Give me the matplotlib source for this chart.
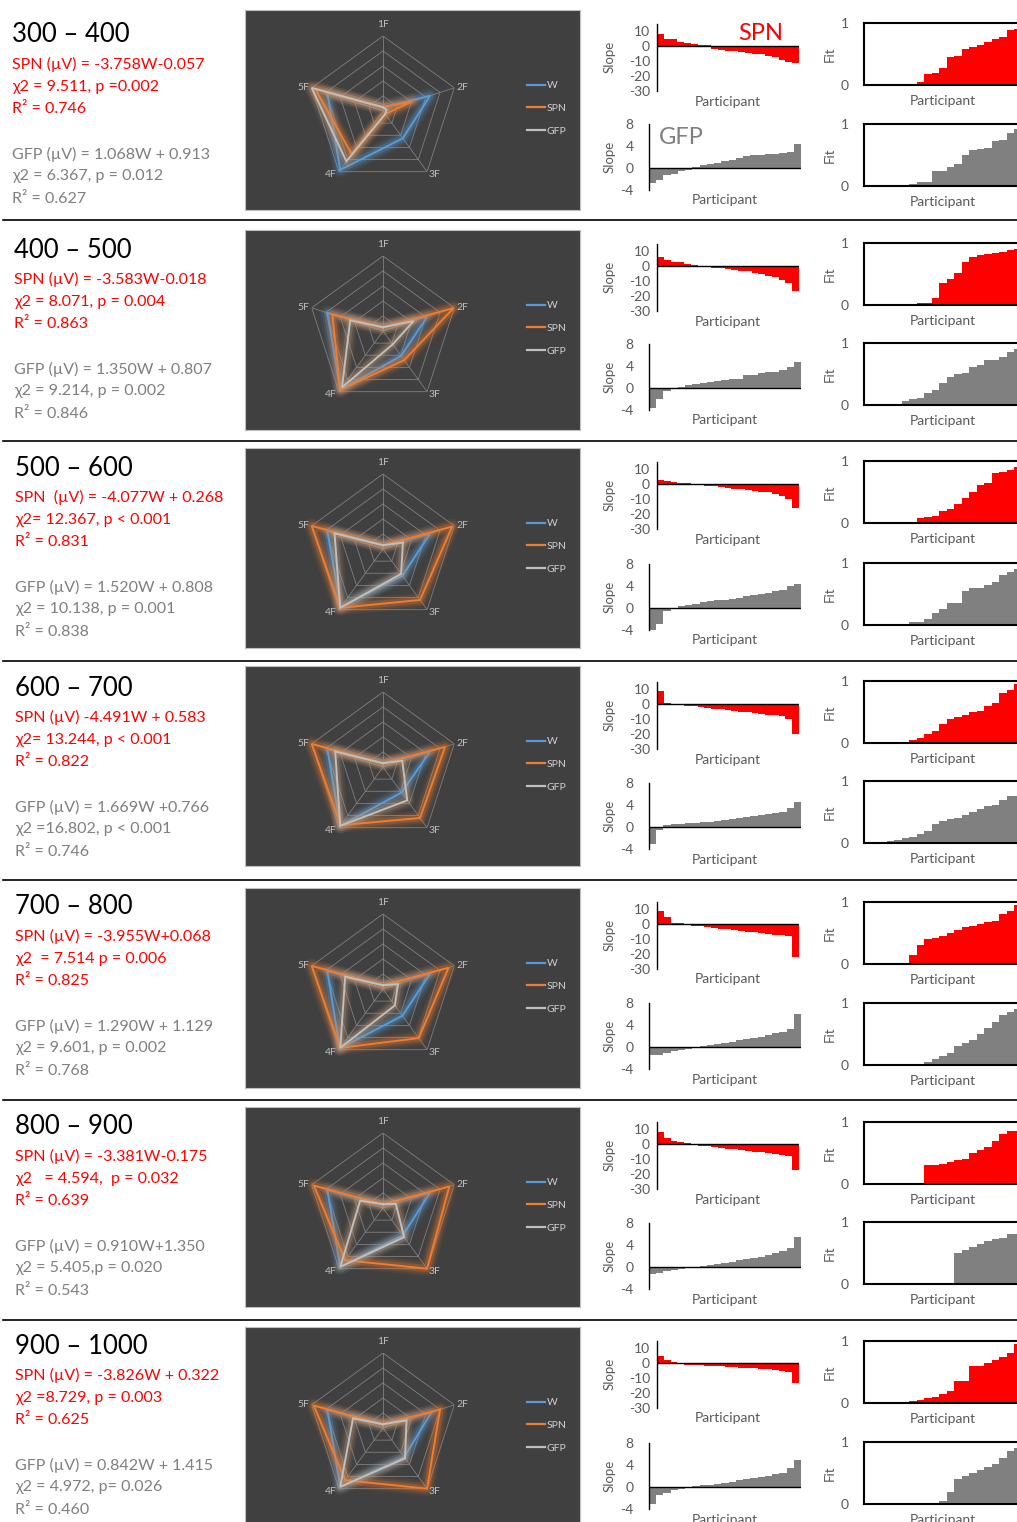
import numpy as np
import matplotlib
matplotlib.use('Agg')
import matplotlib.pyplot as plt
from matplotlib.lines import Line2D

plt.rcParams['font.family'] = ['Lato', 'DejaVu Sans']
plt.rcParams['axes.unicode_minus'] = False

# ---------------- data ----------------
windows = ["300 – 400", "400 – 500", "500 – 600", "600 – 700",
           "700 – 800", "800 – 900", "900 – 1000"]
spn_eq = ["SPN (µV) = -3.758W-0.057", "SPN (µV) = -3.583W-0.018",
          "SPN  (µV) = -4.077W + 0.268", "SPN (µV) -4.491W + 0.583",
          "SPN (µV) = -3.955W+0.068", "SPN (µV) = -3.381W-0.175",
          "SPN (µV) = -3.826W + 0.322"]
spn_chi = ["χ2 = 9.511, p =0.002", "χ2 = 8.071, p = 0.004",
           "χ2= 12.367, p < 0.001", "χ2= 13.244, p < 0.001",
           "χ2  = 7.514 p = 0.006", "χ2   = 4.594,  p = 0.032",
           "χ2 =8.729, p = 0.003"]
spn_r2 = ["R² = 0.746", "R² = 0.863", "R² = 0.831", "R² = 0.822",
          "R² = 0.825", "R² = 0.639", "R² = 0.625"]
gfp_eq = ["GFP (µV) = 1.068W + 0.913", "GFP (µV) = 1.350W + 0.807",
          "GFP (µV) = 1.520W + 0.808", "GFP (µV) = 1.669W +0.766",
          "GFP (µV) = 1.290W + 1.129", "GFP (µV) = 0.910W+1.350",
          "GFP (µV) = 0.842W + 1.415"]
gfp_chi = ["χ2 = 6.367, p = 0.012", "χ2 = 9.214, p = 0.002",
           "χ2 = 10.138, p = 0.001", "χ2 =16.802, p < 0.001",
           "χ2 = 9.601, p = 0.002", "χ2 = 5.405,p = 0.020",
           "χ2 = 4.972, p= 0.026"]
gfp_r2 = ["R² = 0.627", "R² = 0.846", "R² = 0.838", "R² = 0.746",
          "R² = 0.768", "R² = 0.543", "R² = 0.460"]

radar_labels = ["1F", "2F", "3F", "4F", "5F"]
radar_w = [[0.05, 0.66, 0.45, 0.97, 0.78],
           [0.05, 0.62, 0.41, 0.97, 0.78],
           [0.05, 0.66, 0.44, 0.96, 0.78],
           [0.05, 0.66, 0.42, 0.97, 0.78],
           [0.05, 0.66, 0.44, 0.98, 0.78],
           [0.05, 0.66, 0.45, 0.97, 0.78],
           [0.05, 0.68, 0.48, 0.97, 0.78]]
radar_spn = [[0.05, 0.41, 0.05, 0.71, 0.95],
             [0.05, 0.99, 0.48, 0.97, 0.71],
             [0.05, 0.97, 0.84, 0.97, 1.00],
             [0.05, 0.87, 0.84, 0.96, 1.00],
             [0.05, 0.92, 0.81, 0.97, 1.00],
             [0.05, 0.93, 1.00, 0.86, 0.97],
             [0.05, 0.80, 1.00, 0.86, 0.97]]
radar_gfp = [[0.05, 0.05, 0.05, 0.83, 1.00],
             [0.05, 0.43, 0.22, 0.93, 0.46],
             [0.05, 0.28, 0.41, 0.97, 0.68],
             [0.05, 0.27, 0.55, 0.97, 0.67],
             [0.05, 0.21, 0.27, 0.97, 0.53],
             [0.05, 0.18, 0.48, 0.97, 0.32],
             [0.05, 0.33, 0.50, 0.97, 0.42]]

spn_slope = [
    [8, 5, 4.5, 2.5, 2, 1.5, 1, 0.5, -2, -2.5, -3, -3.5, -4, -4.5, -5, -5.5, -6.5, -7.5, -9, -10.5, -11.5],
    [6, 4, 3, 2.5, 1.5, 0.8, 0.3, -0.5, -1, -1.5, -2, -2.5, -3, -3.5, -4.5, -5, -6.5, -7, -9, -11, -16.5],
    [3, 2, 1.5, 1, 0.5, 0.2, -0.5, -1, -1.5, -2, -2.5, -3, -3.5, -4, -4.5, -5, -5.5, -6.5, -8, -10, -16],
    [9, 0.5, 0, -0.5, -1, -1.5, -2, -2.5, -3, -3.5, -4, -4.5, -5, -5.5, -6, -6.5, -7, -7.5, -8, -10, -20],
    [9, 5, 1, 0.5, -0.5, -1, -1.5, -2, -2.5, -3, -3.5, -4, -4.5, -5, -5.5, -6, -6.5, -7, -7.5, -8, -22],
    [8, 4, 2, 1.5, 0.5, -0.5, -1, -1.5, -2, -2.5, -3, -3.5, -4, -4.5, -5, -5.5, -6, -6.5, -7, -8, -17],
    [5, 2, 0.5, -0.5, -1, -1.2, -1.5, -1.8, -2, -2.2, -2.5, -2.8, -3, -3.2, -3.5, -3.8, -4, -4.5, -5, -6, -13]]
gfp_slope = [
    [-2.8, -2.2, -1.2, -1, -0.6, -0.3, 0.2, 0.5, 0.8, 1, 1.2, 1.4, 1.8, 2.2, 2.3, 2.4, 2.5, 2.6, 2.8, 3, 4.3],
    [-3.6, -2, -0.5, 0, 0.2, 0.5, 0.7, 0.9, 1.1, 1.3, 1.5, 1.6, 1.7, 2.3, 2.4, 2.8, 2.9, 3, 3.2, 3.9, 4.7],
    [-4, -3, -0.5, -0.2, 0.3, 0.5, 0.8, 1, 1.2, 1.4, 1.5, 1.7, 1.9, 2.1, 2.3, 2.5, 2.8, 3, 3.3, 4, 4.3],
    [-3, -0.5, 0.3, 0.5, 0.6, 0.7, 0.8, 0.9, 1.0, 1.1, 1.2, 1.4, 1.6, 1.8, 2.0, 2.2, 2.4, 2.6, 2.8, 3.5, 4.5],
    [-1.5, -1.5, -1, -0.8, -0.5, -0.3, 0, 0.2, 0.4, 0.6, 0.8, 1.0, 1.2, 1.4, 1.6, 1.8, 2.2, 2.5, 2.8, 3.2, 6],
    [-1.2, -1, -0.8, -0.6, -0.4, -0.2, 0, 0.2, 0.4, 0.6, 0.8, 1, 1.2, 1.4, 1.6, 1.8, 2.2, 2.6, 3, 3.5, 5.5],
    [-3, -1.5, -1, -0.5, -0.3, 0, 0.2, 0.3, 0.4, 0.6, 0.8, 1.0, 1.2, 1.4, 1.6, 1.8, 2.0, 2.3, 2.6, 3.5, 5]]
spn_fit = [
    [0, 0, 0, 0, 0, 0, 0, 0.05, 0.17, 0.2, 0.28, 0.45, 0.47, 0.58, 0.62, 0.64, 0.7, 0.75, 0.77, 0.88, 0.9],
    [0, 0, 0, 0, 0, 0.01, 0.02, 0.04, 0.04, 0.12, 0.35, 0.42, 0.52, 0.7, 0.78, 0.8, 0.82, 0.84, 0.86, 0.88, 0.9],
    [0, 0, 0, 0, 0, 0, 0.02, 0.08, 0.1, 0.12, 0.2, 0.22, 0.3, 0.4, 0.5, 0.62, 0.65, 0.8, 0.82, 0.85, 0.9],
    [0, 0, 0, 0, 0, 0.02, 0.05, 0.08, 0.15, 0.2, 0.3, 0.38, 0.42, 0.45, 0.5, 0.52, 0.6, 0.65, 0.8, 0.85, 0.95],
    [0, 0, 0, 0, 0, 0, 0.15, 0.3, 0.4, 0.42, 0.45, 0.5, 0.55, 0.6, 0.62, 0.65, 0.68, 0.7, 0.8, 0.85, 0.95],
    [0, 0, 0, 0, 0, 0, 0, 0, 0.3, 0.3, 0.32, 0.35, 0.38, 0.4, 0.5, 0.55, 0.6, 0.7, 0.8, 0.85, 0.85],
    [0, 0, 0, 0, 0.01, 0.02, 0.03, 0.05, 0.08, 0.1, 0.15, 0.2, 0.35, 0.35, 0.6, 0.6, 0.65, 0.7, 0.75, 0.8, 0.95]]
gfp_fit = [
    [0, 0, 0, 0, 0, 0, 0.04, 0.07, 0.07, 0.25, 0.25, 0.3, 0.35, 0.5, 0.58, 0.6, 0.62, 0.72, 0.75, 0.85, 0.92],
    [0, 0, 0, 0, 0.02, 0.07, 0.1, 0.12, 0.2, 0.25, 0.35, 0.45, 0.5, 0.52, 0.62, 0.65, 0.72, 0.72, 0.77, 0.85, 0.9],
    [0, 0, 0, 0, 0, 0.02, 0.05, 0.05, 0.1, 0.2, 0.25, 0.35, 0.35, 0.55, 0.6, 0.6, 0.65, 0.7, 0.8, 0.85, 0.9],
    [0, 0.01, 0.02, 0.03, 0.05, 0.08, 0.1, 0.15, 0.2, 0.3, 0.35, 0.38, 0.4, 0.45, 0.5, 0.55, 0.6, 0.62, 0.7, 0.75, 0.75],
    [0, 0, 0, 0, 0, 0, 0, 0.02, 0.05, 0.1, 0.15, 0.2, 0.3, 0.35, 0.4, 0.5, 0.6, 0.7, 0.8, 0.85, 0.9],
    [0, 0, 0, 0, 0, 0, 0, 0, 0, 0, 0, 0, 0.5, 0.55, 0.6, 0.65, 0.7, 0.72, 0.75, 0.8, 0.8],
    [0, 0, 0, 0, 0, 0, 0, 0, 0, 0, 0.05, 0.2, 0.4, 0.45, 0.5, 0.55, 0.6, 0.65, 0.75, 0.85, 0.9]]

# ---------------- layout (pixels) ----------------
W_PX, H_PX, DPI = 1017, 1522, 100
text_base = [5, 220, 438, 658, 877, 1097, 1316]
text_x = [12, 14, 15, 15, 15, 15, 15]
text_off = [30, 59, 82, 104, 149, 171, 194]
panel_top = [10, 230, 448, 666, 888, 1107, 1327]
spn_zero = [46, 266, 484, 704, 924, 1144, 1363]
gfp_zero = [168, 388, 608, 827, 1047, 1267, 1487]
fit1_top = [23, 243, 461, 681, 902, 1122, 1341]
fit2_top = [124, 343, 563, 781, 1003, 1222, 1442]
separators = [220, 441, 661, 880, 1100, 1320]

RED = '#ff0000'
GRAY_TXT = '#7f7f7f'
GRAY_BAR = '#808080'
LABEL = '#595959'
C_W, C_SPN, C_GFP = '#5b9bd5', '#ed7d31', '#bfbfbf'
G_W, G_SPN, G_GFP = '#5b9bd5', '#ed7d31', '#c39b76'

fig = plt.figure(figsize=(W_PX / DPI, H_PX / DPI), dpi=DPI)


def fbox(x0, y0, x1, y1):
    return [x0 / W_PX, 1 - y1 / H_PX, (x1 - x0) / W_PX, (y1 - y0) / H_PX]


def ftext(x, y, s, **kw):
    fig.text(x / W_PX, 1 - y / H_PX, s, **kw)


def slope_axes(x0, x1, z, lo, hi, ppu, vals, color, ticks, pad):
    top, bot = z - hi * ppu, z - lo * ppu
    ax = fig.add_axes(fbox(x0, top, x1, bot))
    n = len(vals)
    ax.bar(np.arange(n), vals, width=1.0, align='edge', color=color, linewidth=0)
    ax.set_xlim(0, n)
    ax.set_ylim(lo, hi)
    ax.axhline(0, color='black', lw=1.0)
    for s in ['top', 'right', 'bottom']:
        ax.spines[s].set_visible(False)
    ax.spines['left'].set_color('black')
    ax.spines['left'].set_linewidth(1.0)
    ax.set_xticks([])
    ax.set_yticks(ticks)
    ax.tick_params(axis='y', length=0, pad=pad, labelsize=10, labelcolor=LABEL)
    ax.patch.set_alpha(0)
    ftext(610, (top + bot) / 2, 'Slope', rotation=90, ha='center', va='center',
          fontsize=9.5, color=LABEL)
    ftext((x0 + x1) / 2, bot + 10.5, 'Participant', ha='center', va='center',
          fontsize=10, color=LABEL)
    return ax


def fit_axes(top, vals, color):
    bot = top + 62
    ax = fig.add_axes(fbox(864, top, 1022, bot))
    n = len(vals)
    ax.bar(np.arange(n), vals, width=1.0, align='edge', color=color, linewidth=0)
    ax.set_xlim(0, n)
    ax.set_ylim(0, 1)
    for s in ax.spines.values():
        s.set_color('black')
        s.set_linewidth(1.5)
    ax.set_xticks([])
    ax.set_yticks([0, 1])
    ax.tick_params(axis='y', length=0, pad=11, labelsize=10, labelcolor=LABEL)
    ftext(830, (top + bot) / 2, 'Fit', rotation=90, ha='center', va='center',
          fontsize=9.5, color=LABEL)
    ftext(943, bot + 16, 'Participant', ha='center', va='center',
          fontsize=10, color=LABEL)
    return ax


theta = np.linspace(0, 2 * np.pi, len(radar_labels), endpoint=False)
theta_c = np.append(theta, theta[0])
label_pos = [(1.15, 'center'), (1.03, 'left'), (1.04, 'left'), (1.04, 'right'), (1.03, 'right')]

for i in range(len(windows)):
    # ---- text block ----
    b = text_base[i]
    tx = text_x[i]
    ftext(tx, b + text_off[0], windows[i], fontsize=18.5, color='black', va='center')
    for s, off, col in [(spn_eq[i], text_off[1], RED), (spn_chi[i], text_off[2], RED),
                        (spn_r2[i], text_off[3], RED), (gfp_eq[i], text_off[4], GRAY_TXT),
                        (gfp_chi[i], text_off[5], GRAY_TXT), (gfp_r2[i], text_off[6], GRAY_TXT)]:
        ftext(tx, b + off, s, fontsize=11.5, color=col, va='center')

    # ---- radar panel ----
    pt = panel_top[i]
    bg = fig.add_axes(fbox(245, pt, 580, pt + 200))
    bg.set_facecolor('#404040')
    bg.set_xticks([])
    bg.set_yticks([])
    for s in bg.spines.values():
        s.set_color('#bfbfbf')
        s.set_linewidth(0.8)

    cx, cy = 383, pt + 101
    pax = fig.add_axes(fbox(cx - 75, cy - 75, cx + 75, cy + 75), projection='polar')
    pax.set_theta_zero_location('N')
    pax.set_theta_direction(-1)
    pax.set_ylim(0, 1)
    pax.set_axis_off()
    for r in [0.2, 0.4, 0.6, 0.8, 1.0]:
        pax.plot(theta_c, [r] * len(theta_c), color='#7f7f7f', lw=0.6)
    for t in theta:
        pax.plot([t, t], [0, 1], color='#7f7f7f', lw=0.6)
    for t, lab, (rr, ha) in zip(theta, radar_labels, label_pos):
        pax.text(t, rr, lab, ha=ha, va='center', fontsize=7.5,
                 color='#bfbfbf', clip_on=False)

    handles = []
    for vals, col, glow in [(radar_w[i], C_W, G_W), (radar_spn[i], C_SPN, G_SPN),
                            (radar_gfp[i], C_GFP, G_GFP)]:
        v = list(vals) + [vals[0]]
        for lw, a in [(11, 0.08), (8, 0.14), (5, 0.26)]:
            pax.plot(theta_c, v, color=glow, lw=lw, alpha=a, solid_joinstyle='round',
                     solid_capstyle='round', clip_on=False)
        pax.plot(theta_c, v, color=col, lw=1.4, clip_on=False, solid_joinstyle='miter')
        handles.append(Line2D([], [], color=col, lw=1.6))
    bg.legend(handles, ['W', 'SPN', 'GFP'], loc='upper left',
              bbox_to_anchor=((527 - 245) / 335, 1 - 71 / 200), frameon=False,
              fontsize=7.5, labelcolor='#d0d0d0', handlelength=1.75,
              handletextpad=0.15, labelspacing=1.3, borderpad=0, borderaxespad=0)

    # ---- slope bars ----
    slope_axes(657, 799, spn_zero[i], -30, 15, 1.5, spn_slope[i], RED,
               [10, 0, -10, -20, -30], 5)
    slope_axes(649, 801, gfp_zero[i], -4, 8, 5.5, gfp_slope[i], GRAY_BAR,
               [8, 4, 0, -4], 11)

    # ---- fit bars ----
    fit_axes(fit1_top[i], spn_fit[i], RED)
    fit_axes(fit2_top[i], gfp_fit[i], GRAY_BAR)

# row-1 series tags
ftext(761, 33, 'SPN', fontsize=17, color=RED, ha='center', va='center')
ftext(681, 138, 'GFP', fontsize=17, color=GRAY_TXT, ha='center', va='center')

for y in separators:
    fig.add_artist(Line2D([3 / W_PX, 1.0], [1 - y / H_PX] * 2, color='black',
                          lw=1.2, transform=fig.transFigure))

fig.savefig('out.png', dpi=DPI, facecolor='white')
